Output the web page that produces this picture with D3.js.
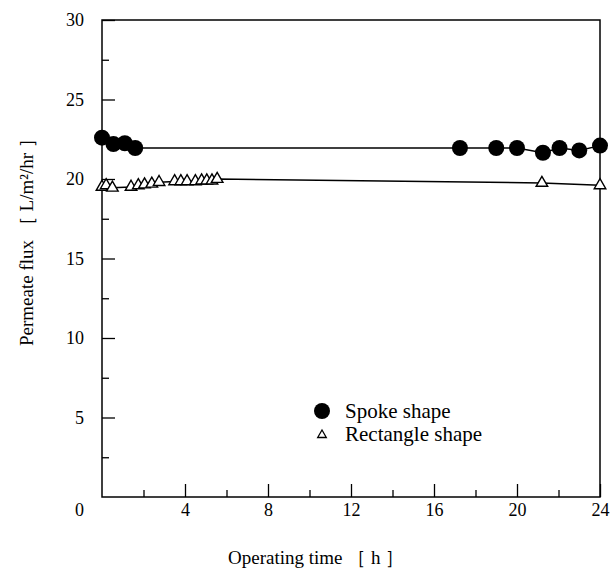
<!DOCTYPE html>
<html>
<head>
<meta charset="utf-8">
<script src="https://cdn.jsdelivr.net/npm/d3@7"></script>
<style>
  body { margin: 0; background: #fff; }
  svg { display: block; font-family: "Liberation Serif", "DejaVu Serif", serif; }
</style>
</head>
<body>
<div id="viz"></div>
<script>
// datos
const spokeTime = [0, 0.55, 1.1, 1.6, 17.25, 19.0, 20.0, 21.25, 22.05, 23.0, 24.0];
const spokeFlux = [22.6, 22.2, 22.25, 21.95, 21.95, 21.95, 21.95, 21.65, 21.95, 21.8, 22.1];

const rectTime = [0, 0.2, 0.5, 1.4, 1.75, 2.05, 2.4, 2.75, 3.5, 3.8, 4.1, 4.5, 4.8, 5.05, 5.3, 5.55, 21.2, 24];
const rectFlux = [19.5, 19.6, 19.45, 19.5, 19.6, 19.65, 19.7, 19.8, 19.85, 19.85, 19.85, 19.85, 19.9, 19.9, 19.9, 20.0, 19.75, 19.6];

const xMajor = [4, 8, 12, 16, 20, 24];
const xMinor = [2, 6, 10, 14, 18, 22];
const yMajor = [0, 5, 10, 15, 20, 25, 30];
const yMinor = [2.5, 7.5, 12.5, 17.5, 22.5, 27.5];

const legendLabels = ["Spoke shape", "Rectangle shape"];

(function () {
  const W = 616, H = 572;
  const left = 102, right = 600, top = 20, bottom = 497;

  const svg = d3.select("#viz").append("svg")
    .attr("width", W).attr("height", H);

  const x = d3.scaleLinear().domain([0, 24]).range([left, right]);
  const y = d3.scaleLinear().domain([0, 30]).range([bottom, top]);

  // marco
  svg.append("rect")
    .attr("x", left).attr("y", top)
    .attr("width", right - left).attr("height", bottom - top)
    .attr("fill", "none").attr("stroke", "#000").attr("stroke-width", 1.5);

  // ejes
  const gx = svg.append("g")
    .attr("transform", `translate(0,${bottom})`)
    .call(d3.axisBottom(x).tickValues(xMajor).tickSizeInner(-13).tickSizeOuter(0).tickPadding(6));
  const gxm = svg.append("g")
    .attr("transform", `translate(0,${bottom})`)
    .call(d3.axisBottom(x).tickValues(xMinor).tickSizeInner(-7).tickSizeOuter(0).tickFormat(""));
  const gy = svg.append("g")
    .attr("transform", `translate(${left},0)`)
    .call(d3.axisLeft(y).tickValues(yMajor).tickSizeInner(-13).tickSizeOuter(0).tickPadding(18));
  const gym = svg.append("g")
    .attr("transform", `translate(${left},0)`)
    .call(d3.axisLeft(y).tickValues(yMinor).tickSizeInner(-7).tickSizeOuter(0).tickFormat(""));

  [gx, gxm, gy, gym].forEach(g => {
    g.select(".domain").remove();
    g.selectAll(".tick line").attr("stroke", "#000").attr("stroke-width", 1.3);
    g.selectAll("text").attr("font-family", "Liberation Serif").attr("font-size", 18).attr("fill", "#000");
  });
  // el 0 del eje y queda en la esquina, bajo el marco
  gy.selectAll(".tick").filter(d => d === 0).select("line").remove();
  gy.selectAll(".tick").filter(d => d === 0).select("text").attr("y", 13);

  // líneas
  const line = d3.line().x(d => x(d[0])).y(d => y(d[1]));
  svg.append("path")
    .datum(spokeTime.map((t, i) => [t, spokeFlux[i]]))
    .attr("fill", "none").attr("stroke", "#000").attr("stroke-width", 1.5)
    .attr("d", line);
  svg.append("path")
    .datum(rectTime.map((t, i) => [t, rectFlux[i]]))
    .attr("fill", "none").attr("stroke", "#000").attr("stroke-width", 1.5)
    .attr("d", line);

  // puntos
  svg.selectAll("circle.spoke")
    .data(spokeTime.map((t, i) => [t, spokeFlux[i]]))
    .enter().append("circle")
      .attr("class", "spoke")
      .attr("cx", d => x(d[0])).attr("cy", d => y(d[1]))
      .attr("r", 8).attr("fill", "#000");

  const tri = d3.symbol().type(d3.symbolTriangle);
  svg.selectAll("path.rect")
    .data(rectTime.map((t, i) => [t, rectFlux[i]]))
    .enter().append("path")
      .attr("class", "rect")
      .attr("transform", d => `translate(${x(d[0])},${y(d[1])})`)
      .attr("d", tri.size(58)())
      .attr("fill", "#fff").attr("stroke", "#000").attr("stroke-width", 1.4);

  // leyenda
  const leg = svg.append("g").attr("transform", "translate(322,411)");
  leg.append("circle").attr("cx", 0).attr("cy", 0).attr("r", 8).attr("fill", "#000");
  leg.append("path").attr("transform", "translate(0,24)")
    .attr("d", d3.symbol().type(d3.symbolTriangle).size(32)())
    .attr("fill", "#fff").attr("stroke", "#000").attr("stroke-width", 1.3);
  leg.selectAll("text").data(legendLabels).enter().append("text")
    .attr("x", 23).attr("y", (d, i) => i * 23)
    .attr("dy", "0.35em")
    .attr("font-size", 21).attr("fill", "#000")
    .text(d => d);

  // títulos
  svg.append("text")
    .attr("x", 228).attr("y", 564)
    .attr("font-size", 19)
    .text("Operating time \uff3b h \uff3d");
  svg.append("text")
    .attr("transform", "translate(33,346) rotate(-90)")
    .attr("font-size", 19)
    .text("Permeate flux \uff3b L/m\u00b2/hr \uff3d");
})();
</script>
</body>
</html>
